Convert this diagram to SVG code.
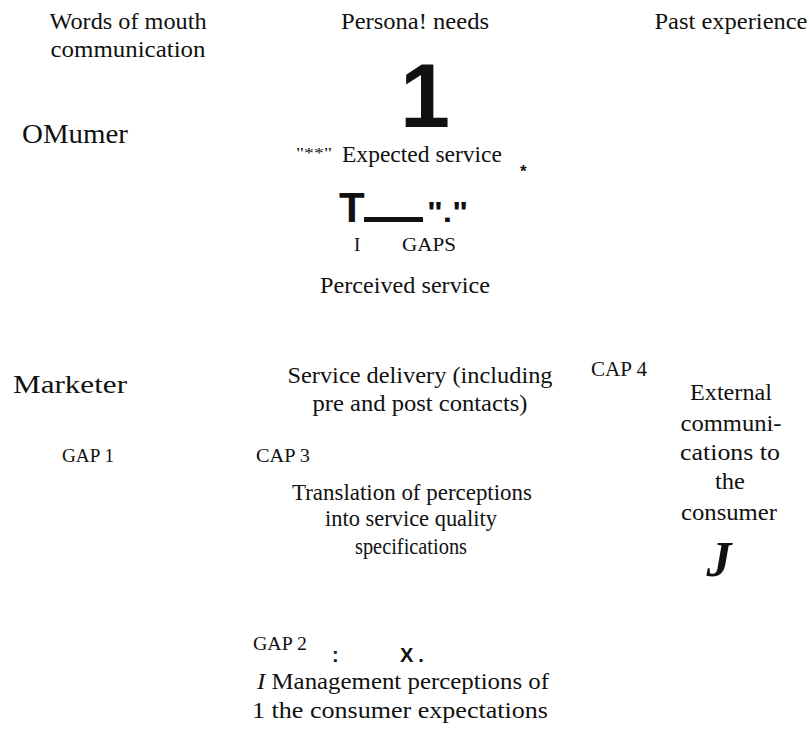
<svg xmlns="http://www.w3.org/2000/svg" width="809" height="741" viewBox="0 0 809 741">
<style>
.s{font-family:"Liberation Serif","Times New Roman",serif;fill:#111;}
.b{font-family:"Liberation Sans",Arial,sans-serif;font-weight:bold;fill:#111;}
.m{text-anchor:middle;}
</style>
<rect width="809" height="741" fill="#fff"/>
<g id="word-of-mouth"><text class="s m" font-size="24" x="128" y="29" textLength="157" lengthAdjust="spacingAndGlyphs">Words of mouth</text><text class="s m" font-size="24" x="128" y="57" textLength="155" lengthAdjust="spacingAndGlyphs">communication</text></g>
<g id="personal-needs"><text class="s m" font-size="24" x="415" y="29" textLength="148" lengthAdjust="spacingAndGlyphs">Persona! needs</text></g>
<g id="past-experience"><text class="s m" font-size="24" x="731" y="29" textLength="153" lengthAdjust="spacingAndGlyphs">Past experience</text></g>
<g id="big-one"><text class="b m" font-size="90" x="425" y="127">1</text></g>
<g id="consumer-label"><text class="s" font-size="28" x="22" y="143" textLength="106" lengthAdjust="spacingAndGlyphs">OMumer</text></g>
<g id="expected-service">
<text class="s" font-size="15" x="296" y="158" textLength="36" lengthAdjust="spacingAndGlyphs">"**"</text>
<text class="s" font-size="23" x="342" y="162" textLength="160" lengthAdjust="spacingAndGlyphs">Expected service</text>
<text class="b" font-size="17" x="520" y="177">*</text>
</g>
<g id="gap5">
<text class="b" font-size="42" x="339" y="222">T</text>
<rect x="364" y="217" width="59" height="5" fill="#111"/>
<text class="b" font-size="30" x="427" y="222" textLength="41" lengthAdjust="spacingAndGlyphs">"."</text>
<text class="s" font-size="19" x="354" y="251">I</text>
<text class="s" font-size="19" x="402" y="251" textLength="54" lengthAdjust="spacingAndGlyphs">GAPS</text>
</g>
<g id="perceived-service"><text class="s m" font-size="23" x="405" y="293" textLength="170" lengthAdjust="spacingAndGlyphs">Perceived service</text></g>
<g id="gap4"><text class="s" font-size="20" x="591" y="376" textLength="56" lengthAdjust="spacingAndGlyphs">CAP 4</text></g>
<g id="marketer-label"><text class="s" font-size="25" x="13" y="393" textLength="114" lengthAdjust="spacingAndGlyphs">Marketer</text></g>
<g id="service-delivery"><text class="s m" font-size="24" x="420" y="383" textLength="265" lengthAdjust="spacingAndGlyphs">Service delivery (including</text><text class="s m" font-size="24" x="420" y="411" textLength="215" lengthAdjust="spacingAndGlyphs">pre and post contacts)</text></g>
<g id="external-communications">
<text class="s m" font-size="24" x="731" y="400" textLength="82" lengthAdjust="spacingAndGlyphs">External</text>
<text class="s m" font-size="24" x="731" y="431" textLength="101" lengthAdjust="spacingAndGlyphs">communi-</text>
<text class="s m" font-size="24" x="730" y="460" textLength="100" lengthAdjust="spacingAndGlyphs">cations to</text>
<text class="s m" font-size="24" x="730" y="489" textLength="30" lengthAdjust="spacingAndGlyphs">the</text>
<text class="s m" font-size="24" x="729" y="520" textLength="96" lengthAdjust="spacingAndGlyphs">consumer</text>
<text class="s m" font-size="50" x="719" y="576" font-weight="bold" font-style="italic">J</text>
</g>
<g id="gap1"><text class="s" font-size="19" x="62" y="462" textLength="52" lengthAdjust="spacingAndGlyphs">GAP 1</text></g>
<g id="gap3"><text class="s" font-size="19" x="256" y="462" textLength="54" lengthAdjust="spacingAndGlyphs">CAP 3</text></g>
<g id="translation"><text class="s m" font-size="23" x="412" y="500" textLength="240" lengthAdjust="spacingAndGlyphs">Translation of perceptions</text><text class="s m" font-size="23" x="411" y="526" textLength="172" lengthAdjust="spacingAndGlyphs">into service quality</text><text class="s m" font-size="23" x="411" y="554" textLength="112" lengthAdjust="spacingAndGlyphs">specifications</text></g>
<g id="gap2"><text class="s" font-size="19" x="253" y="650" textLength="54" lengthAdjust="spacingAndGlyphs">GAP 2</text>
<text class="b" font-size="20" x="332" y="662">:</text>
<text class="b" font-size="20" x="400" y="662" letter-spacing="5">X.</text></g>
<g id="management-perceptions"><text class="s" font-size="24" x="257" y="689" textLength="292" lengthAdjust="spacingAndGlyphs"><tspan font-style="italic">I</tspan> Management perceptions of</text><text class="s" font-size="24" x="252" y="718" textLength="296" lengthAdjust="spacingAndGlyphs">1 the consumer expectations</text></g>
</svg>
